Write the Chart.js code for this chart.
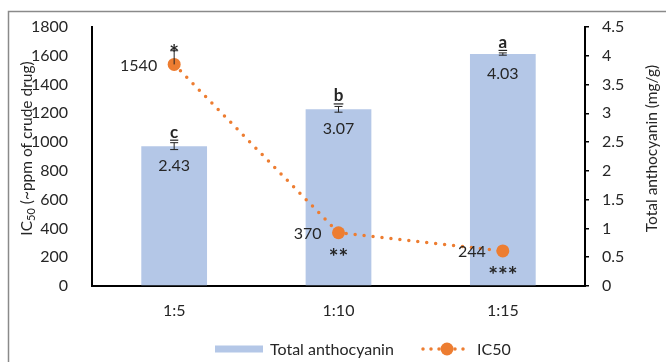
<!DOCTYPE html>
<html>
<head>
<meta charset="utf-8">
<script src="https://cdn.jsdelivr.net/npm/chart.js@4"></script>
<style>
  html, body { margin: 0; padding: 0; background: #fff; }
  #wrap { width: 666px; height: 362px; position: relative; }
</style>
</head>
<body>
<div id="wrap"><canvas id="c" width="666" height="362"></canvas></div>
<script>
// Extraction ratio (plant : solvent)
const ratios = ['1:5', '1:10', '1:15'];

// Total anthocyanin content (mg/g), its error and significance groups
const anthocyanin = [2.43, 3.07, 4.03];
const anthocyaninErr = [0.06, 0.05, 0.02];
const anthocyaninGroups = ['c', 'b', 'a'];

// IC50 (~ppm of crude drug), its error and significance stars
const ic50 = [1540, 370, 244];
const ic50Err = [95, 0, 0];
const ic50Stars = ['*', '**', '***'];

// Axis ranges
const ic50Axis = { min: 0, max: 1800, step: 200 };
const anthoAxis = { min: 0, max: 4.5, step: 0.5 };

const FONT = 'Lato, "Liberation Sans", sans-serif';
const TEXT = '#262626';
const BLUE = '#B4C7E7';
const ORANGE = '#ED7D31';

// White background and the thin grey frame around the figure
const framePlugin = {
  id: 'frame',
  beforeDraw(chart) {
    const ctx = chart.ctx;
    ctx.save();
    ctx.fillStyle = '#fff';
    ctx.fillRect(0, 0, chart.width, chart.height);
    ctx.strokeStyle = '#8a8a8a';
    ctx.lineWidth = 1.5;
    ctx.beginPath();
    ctx.moveTo(8.5, chart.height);
    ctx.lineTo(8.5, 11.5);
    ctx.lineTo(chart.width, 11.5);
    ctx.stroke();
    ctx.restore();
  }
};

// Error bars, value labels, group letters and significance stars
const labelsPlugin = {
  id: 'valueLabels',
  afterDatasetsDraw(chart) {
    const ctx = chart.ctx;
    const y1 = chart.scales.y1;
    const y = chart.scales.y;
    const bars = chart.getDatasetMeta(1).data;
    const pts = chart.getDatasetMeta(0).data;
    ctx.save();
    ctx.lineWidth = 1;

    bars.forEach((bar, i) => {
      const top = y1.getPixelForValue(anthocyanin[i]);
      const errTop = y1.getPixelForValue(anthocyanin[i] + anthocyaninErr[i]);
      const errBot = y1.getPixelForValue(anthocyanin[i] - anthocyaninErr[i]);
      ctx.strokeStyle = '#222';
      ctx.beginPath();
      ctx.moveTo(bar.x, errTop); ctx.lineTo(bar.x, errBot);
      ctx.moveTo(bar.x - 4, errTop); ctx.lineTo(bar.x + 4, errTop);
      ctx.moveTo(bar.x - 4, errBot); ctx.lineTo(bar.x + 4, errBot);
      ctx.stroke();

      // value inside the bar
      ctx.font = '16px ' + FONT;
      ctx.textAlign = 'center';
      ctx.textBaseline = 'middle';
      ctx.fillStyle = TEXT;
      ctx.fillText(anthocyanin[i].toFixed(2), bar.x, top + 20);

      // underlined group letter above the error bar
      ctx.font = 'bold 17px ' + FONT;
      ctx.textBaseline = 'alphabetic';
      const ly = errTop - 5;
      ctx.fillText(anthocyaninGroups[i], bar.x, ly);
      const w = ctx.measureText(anthocyaninGroups[i]).width;
      ctx.lineWidth = 1.2;
      ctx.beginPath();
      ctx.moveTo(bar.x - w / 2, ly + 2.5); ctx.lineTo(bar.x + w / 2, ly + 2.5);
      ctx.stroke();
      ctx.lineWidth = 1;
    });

    pts.forEach((p, i) => {
      if (ic50Err[i] > 0) {
        const et = y.getPixelForValue(ic50[i] + ic50Err[i]);
        ctx.strokeStyle = '#222';
        ctx.beginPath();
        ctx.moveTo(p.x, p.y); ctx.lineTo(p.x, et);
        ctx.moveTo(p.x - 4, et); ctx.lineTo(p.x + 4, et);
        ctx.stroke();
      }
      ctx.fillStyle = TEXT;
      ctx.font = '16px ' + FONT;
      ctx.textAlign = 'right';
      ctx.textBaseline = 'middle';
      ctx.fillText(String(ic50[i]), p.x - 17, p.y + 1);

      // significance stars (asterisk glyph sits high, so shift it down)
      ctx.textAlign = 'center';
      ctx.font = 'bold 23px ' + FONT;
      if (i === 0) {
        ctx.fillText(ic50Stars[i], p.x, p.y - 11);
      } else {
        ctx.fillText(ic50Stars[i], p.x, p.y + 25);
      }
    });
    ctx.restore();
  }
};

// Rotated axis titles and the legend below the chart
const decorPlugin = {
  id: 'decor',
  afterDraw(chart) {
    const ctx = chart.ctx;
    const area = chart.chartArea;
    const midY = (area.top + area.bottom) / 2 - 8;
    ctx.save();
    ctx.fillStyle = TEXT;
    ctx.textBaseline = 'middle';

    // left title: IC50 with subscript
    const big = '15.5px ' + FONT, small = '11px ' + FONT;
    ctx.font = big; const wIC = ctx.measureText('IC').width;
    ctx.font = small; const w50 = ctx.measureText('50').width;
    ctx.font = big; const wRest = ctx.measureText(' (~ppm of crude drug)').width;
    const total = wIC + w50 + wRest;
    ctx.save();
    ctx.translate(27, midY);
    ctx.rotate(-Math.PI / 2);
    ctx.textAlign = 'left';
    let x0 = -total / 2;
    ctx.font = big; ctx.fillText('IC', x0, 0); x0 += wIC;
    ctx.font = small; ctx.fillText('50', x0, 4); x0 += w50;
    ctx.font = big; ctx.fillText(' (~ppm of crude drug)', x0, 0);
    ctx.restore();

    // right title
    ctx.save();
    ctx.translate(652, midY);
    ctx.rotate(-Math.PI / 2);
    ctx.textAlign = 'center';
    ctx.font = '15.5px ' + FONT;
    ctx.fillText('Total anthocyanin (mg/g)', 0, 0);
    ctx.restore();

    // legend
    const ly = 349;
    ctx.fillStyle = BLUE;
    ctx.fillRect(215, ly - 3.5, 48, 7);
    ctx.fillStyle = TEXT;
    ctx.font = '16px ' + FONT;
    ctx.textAlign = 'left';
    ctx.fillText(chart.data.datasets[1].label, 270, ly + 1);

    ctx.strokeStyle = ORANGE;
    ctx.lineWidth = 3.5;
    ctx.lineCap = 'round';
    ctx.setLineDash([0, 8]);
    ctx.beginPath();
    ctx.moveTo(423, ly); ctx.lineTo(471, ly);
    ctx.stroke();
    ctx.setLineDash([]);
    ctx.fillStyle = ORANGE;
    ctx.beginPath();
    ctx.arc(447, ly, 6.5, 0, Math.PI * 2);
    ctx.fill();
    ctx.fillStyle = TEXT;
    ctx.fillText(chart.data.datasets[0].label, 477, ly + 1);
    ctx.restore();
  }
};

const plainTick = (v) => String(v);

new Chart(document.getElementById('c'), {
  data: {
    labels: ratios,
    datasets: [
      {
        type: 'line',
        label: 'IC50',
        data: ic50,
        yAxisID: 'y',
        order: 0,
        borderColor: ORANGE,
        borderWidth: 3.5,
        borderDash: [0, 9],
        borderCapStyle: 'round',
        tension: 0,
        pointRadius: 6.5,
        pointBackgroundColor: ORANGE,
        pointBorderWidth: 0,
        fill: false
      },
      {
        type: 'bar',
        label: 'Total anthocyanin',
        data: anthocyanin,
        yAxisID: 'y1',
        order: 1,
        backgroundColor: BLUE,
        borderWidth: 0,
        categoryPercentage: 1,
        barPercentage: 0.4
      }
    ]
  },
  options: {
    responsive: false,
    animation: false,
    devicePixelRatio: 1,
    layout: { padding: { top: 27, bottom: 36, left: 0, right: 0 } },
    plugins: {
      legend: { display: false },
      tooltip: { enabled: false }
    },
    scales: {
      x: {
        grid: { display: false },
        border: { color: '#000', width: 2 },
        ticks: { color: TEXT, font: { family: FONT, size: 16 }, padding: 7 },
        afterFit(s) { s.height = 40; }
      },
      y: {
        position: 'left',
        min: ic50Axis.min, max: ic50Axis.max,
        grid: { display: false },
        border: { color: '#000', width: 2 },
        ticks: { stepSize: ic50Axis.step, color: TEXT, font: { family: FONT, size: 16 }, padding: 16, callback: plainTick },
        afterFit(s) { s.width = 92; }
      },
      y1: {
        position: 'right',
        min: anthoAxis.min, max: anthoAxis.max,
        grid: { drawOnChartArea: false, drawTicks: true, tickLength: 4, color: '#000', lineWidth: 1.5 },
        border: { color: '#000', width: 2 },
        ticks: { stepSize: anthoAxis.step, color: TEXT, font: { family: FONT, size: 16 }, padding: 13, callback: plainTick },
        afterFit(s) { s.width = 81; }
      }
    }
  },
  plugins: [framePlugin, labelsPlugin, decorPlugin]
});
</script>
</body>
</html>
